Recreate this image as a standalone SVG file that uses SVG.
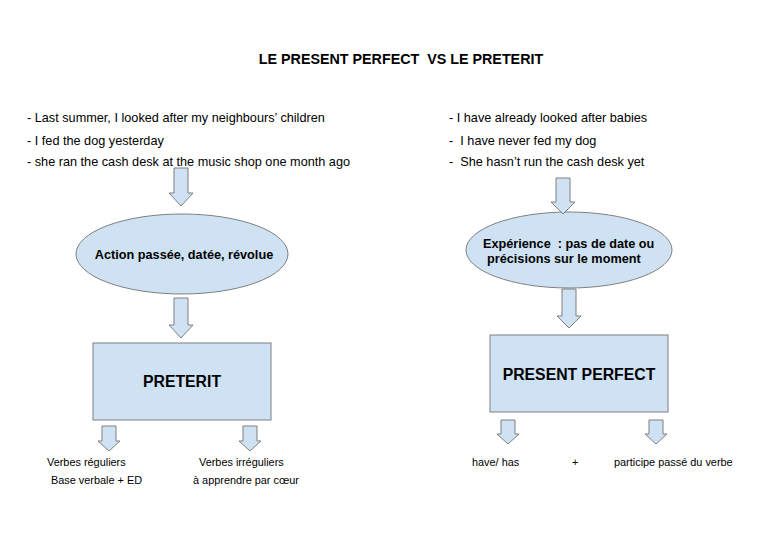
<svg xmlns="http://www.w3.org/2000/svg" width="768" height="543" viewBox="0 0 768 543" xml:space="preserve">
<style>
text{font-family:"Liberation Sans",Arial,sans-serif;fill:#000;white-space:pre}
.t{font-size:12.7px}
.s{font-size:10.9px}
.b{font-weight:bold;font-size:12.7px}
.shape{fill:#cfe2f3;stroke:#7f7f7f;stroke-width:1}
</style>
<rect width="768" height="543" fill="#fff"/>
<text x="401" y="64" text-anchor="middle" class="b" style="font-size:14.3px">LE PRESENT PERFECT  VS LE PRETERIT</text>
<g id="left-examples">
<text x="27" y="122" class="t">- Last summer, I looked after my neighbours’ children</text>
<text x="27" y="145" class="t">- I fed the dog yesterday</text>
<text x="27" y="166" class="t">- she ran the cash desk at the music shop one month ago</text>
</g>
<g id="right-examples">
<text x="449" y="122" class="t">- I have already looked after babies</text>
<text x="449" y="145" class="t">-  I have never fed my dog</text>
<text x="449" y="166" class="t">-  She hasn’t run the cash desk yet</text>
</g>
<g id="action">
<ellipse cx="182" cy="254" rx="106" ry="40" class="shape"/>
<text x="184" y="259" text-anchor="middle" class="b">Action passée, datée, révolue</text>
</g>
<g id="experience">
<ellipse cx="569" cy="250" rx="103" ry="38" class="shape"/>
<text x="483" y="248" class="b">Expérience  : pas de date ou</text>
<text x="487" y="263" class="b">précisions sur le moment</text>
</g>
<g id="preterit">
<rect x="93" y="343" width="178" height="77" class="shape"/>
<text x="182" y="387" text-anchor="middle" class="b" style="font-size:15.8px">PRETERIT</text>
</g>
<g id="present-perfect">
<rect x="490" y="335" width="178" height="77" class="shape"/>
<text x="579" y="380" text-anchor="middle" class="b" style="font-size:15.8px">PRESENT PERFECT</text>
</g>
<g id="connectors" class="shape">
<path d="M174 168H188V193H193L181 206L169 193H174Z"/>
<path d="M174 298H188V325H193L181 338L169 325H174Z"/>
<path d="M556 178H570V202H575L563 214L551 202H556Z"/>
<path d="M562 289H576V316H581L569 328L557 316H562Z"/>
<path d="M102 426H116V441H120L109 451L98 441H102Z"/>
<path d="M243 426H257V441H261L250 451L239 441H243Z"/>
<path d="M501 420H515V434H519L508 444L497 434H501Z"/>
<path d="M649 420H663V434H667L656 444L645 434H649Z"/>
</g>
<g id="bottom-labels">
<text x="47" y="466" class="s">Verbes réguliers</text>
<text x="51" y="484" class="s">Base verbale + ED</text>
<text x="199" y="466" class="s">Verbes irréguliers</text>
<text x="193" y="484" class="s">à apprendre par cœur</text>
<text x="472" y="466" class="s">have/ has</text>
<text x="572" y="466" class="s">+</text>
<text x="614" y="466" class="s">participe passé du verbe</text>
</g>
</svg>
